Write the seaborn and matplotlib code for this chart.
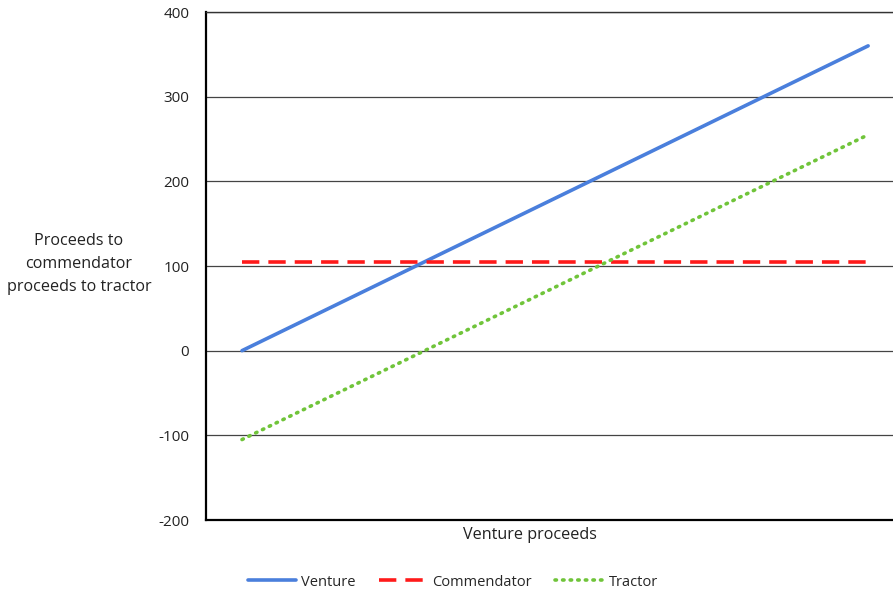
import numpy as np
import pandas as pd
import matplotlib.pyplot as plt
import seaborn as sns

# ---------------- data ----------------
venture_proceeds = [0, 60, 120, 180, 240, 300, 360]
venture = [0, 60, 120, 180, 240, 300, 360]
commendator = [105, 105, 105, 105, 105, 105, 105]
tractor = [-105, -45, 15, 75, 135, 195, 255]
y_ticks = [-200, -100, 0, 100, 200, 300, 400]

df = pd.DataFrame({
    "x": venture_proceeds * 3,
    "y": venture + commendator + tractor,
    "series": ["Venture"] * 7 + ["Commendator"] * 7 + ["Tractor"] * 7,
})

sns.set_style("white")
plt.rcParams['font.family'] = ['Open Sans', 'DejaVu Sans']

fig = plt.figure(figsize=(8.93, 5.93), dpi=100)
ax = fig.add_axes([206 / 893, 1 - 520 / 593, 1 - 206 / 893, 508 / 593])

palette = {"Venture": "#4a7fdc", "Commendator": "#ff1a1a", "Tractor": "#70c43a"}
styles = {"Venture": "-", "Commendator": (0, (4.8, 2.5)), "Tractor": (0, (0.4, 1.7))}

for name in ["Venture", "Commendator", "Tractor"]:
    sub = df[df["series"] == name]
    sns.lineplot(data=sub, x="x", y="y", ax=ax, color=palette[name],
                 linestyle=styles[name], linewidth=2.6, label=name,
                 dash_capstyle="round" if name == "Tractor" else "butt")

ax.set_xlim(-20.7, 374.3)
ax.set_ylim(-200, 400)
ax.set_yticks(y_ticks)
ax.set_yticklabels([str(v) for v in y_ticks], fontsize=11, color="#222222")
ax.set_xticks([])
ax.yaxis.grid(True, color="#444444", linewidth=0.9)
ax.set_axisbelow(True)

for s in ["left", "bottom"]:
    ax.spines[s].set_color("black")
    ax.spines[s].set_linewidth(1.6)
ax.spines["top"].set_color("#333333")
ax.spines["top"].set_linewidth(1.0)
ax.spines["right"].set_visible(False)
ax.tick_params(axis="y", length=0, pad=12)

ax.set_xlabel("")
ax.set_ylabel("")
fig.text(530 / 893, 1 - 535 / 593, "Venture proceeds",
         ha="center", va="center", fontsize=11.6, color="#222222")
fig.text(79 / 893, 1 - 264 / 593, "Proceeds to\ncommendator\nproceeds to tractor",
         ha="center", va="center", fontsize=11.6, color="#222222", linespacing=1.6)

ax.legend(loc="center", ncol=3, frameon=False,
          fontsize=10.5, handlelength=3.3, columnspacing=1.6, handletextpad=0.35)
leg = ax.get_legend()
leg.set_bbox_to_anchor((453 / 893, 1 - 582 / 593), transform=fig.transFigure)

fig.savefig("out.png", dpi=100)
